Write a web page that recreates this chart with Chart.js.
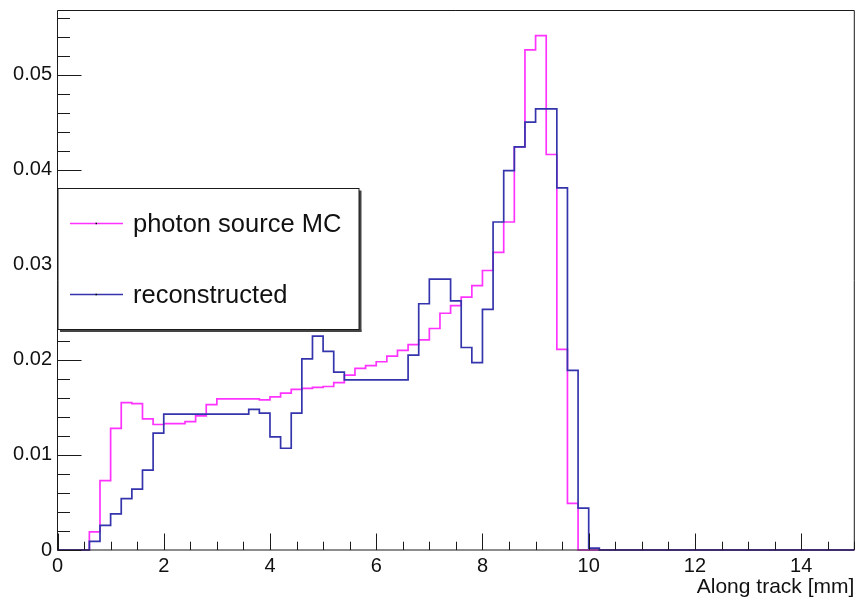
<!DOCTYPE html>
<html><head><meta charset="utf-8">
<script src="https://cdn.jsdelivr.net/npm/chart.js@4"></script>
<style>html,body{margin:0;padding:0;background:#fff;} #wrap{width:859px;height:601px;}</style>
</head><body><div id="wrap"><canvas id="c" width="859" height="601"></canvas></div>
<script>
// bin lower edges (0.2 mm bins) plus final upper edge
const binEdges = [0,0.2,0.4,0.6,0.8,1,1.2,1.4,1.6,1.8,2,2.2,2.4,2.6,2.8,3,3.2,3.4,3.6,3.8,
  4,4.2,4.4,4.6,4.8,5,5.2,5.4,5.6,5.8,6,6.2,6.4,6.6,6.8,7,7.2,7.4,7.6,7.8,
  8,8.2,8.4,8.6,8.8,9,9.2,9.4,9.6,9.8,10,10.2,10.4,10.6,10.8,11,11.2,11.4,11.6,11.8,
  12,12.2,12.4,12.6,12.8,13,13.2,13.4,13.6,13.8,14,14.2,14.4,14.6,14.8,15];

const mcValues = [0,0,0,0.0019,0.0073,0.0128,0.0155,0.0154,0.0138,0.0132,
  0.0133,0.0133,0.0135,0.0141,0.0153,0.0159,0.0159,0.0159,0.0159,0.0158,
  0.0161,0.0165,0.0169,0.0170,0.0171,0.0172,0.0176,0.0184,0.0191,0.0194,
  0.0198,0.0204,0.0210,0.0216,0.0221,0.0233,0.0249,0.0257,0.0266,0.0278,
  0.0294,0.0313,0.0345,0.0424,0.0526,0.0541,0.0416,0.0211,0.0049,0,
  0,0,0,0,0,0,0,0,0,0,0,0,0,0,0,0,0,0,0,0,0,0,0,0,0];

const recoValues = [0,0,0,0.0009,0.0026,0.0038,0.0054,0.0064,0.0084,0.0123,
  0.0143,0.0143,0.0143,0.0143,0.0143,0.0143,0.0143,0.0143,0.0148,0.0144,
  0.0119,0.0107,0.0144,0.0201,0.0225,0.0209,0.0187,0.0179,0.0179,0.0179,
  0.0179,0.0179,0.0179,0.0205,0.0259,0.0285,0.0285,0.0262,0.0213,0.0197,
  0.0253,0.0345,0.0399,0.0424,0.0450,0.0464,0.0464,0.0381,0.0189,0.0044,
  0.0002,0,0,0,0,0,0,0,0,0,0,0,0,0,0,0,0,0,0,0,0,0,0,0,0];

const xTickValues = [0,2,4,6,8,10,12,14];
const yTickValues = [0,0.01,0.02,0.03,0.04,0.05];
const seriesLabels = ['photon source MC','reconstructed'];
const xTitle = 'Along track [mm]';

const FONT = '"Liberation Sans", Arial, Helvetica, sans-serif';
const MC_COLOR = '#ff33ff';
const RECO_COLOR = '#3434ac';

function histPoints(vals){
  const pts = vals.map((v,i)=>({x:binEdges[i], y:v}));
  pts.push({x:binEdges[vals.length], y:vals[vals.length-1]});
  return pts;
}

const rootFrame = {
  id:'rootFrame',
  afterDatasetsDraw(chart){
    const {ctx, chartArea:a, scales:{x,y}} = chart;
    ctx.save();
    ctx.strokeStyle = '#1a1a1a';
    ctx.lineWidth = 1;
    // frame
    ctx.beginPath();
    ctx.rect(a.left, a.top + 0.5, a.right - a.left, a.bottom - a.top - 0.5);
    ctx.stroke();
    // y ticks (inward)
    ctx.beginPath();
    for (let k = 0; k * 0.002 <= y.max + 1e-9; k++) {
      const v = k * 0.002;
      const py = Math.round(y.getPixelForValue(v)) + 0.5;
      const len = (k % 5 === 0) ? 24 : 12.5;
      ctx.moveTo(a.left, py); ctx.lineTo(a.left + len, py);
    }
    // x ticks (inward)
    for (let k = 0; k * 0.5 <= x.max + 1e-9; k++) {
      const v = k * 0.5;
      const px = Math.round(x.getPixelForValue(v)) + 0.5;
      const len = (k % 4 === 0) ? 16.5 : 8.3;
      ctx.moveTo(px, a.bottom); ctx.lineTo(px, a.bottom - len);
    }
    ctx.stroke();

    // legend box
    const L = 58, T = 188.5, R = 359, B = 329.5;
    ctx.fillStyle = '#444';
    ctx.fillRect(R, T + 2, 2.5, B - T);
    ctx.fillRect(L + 2, B, R - L + 0.5, 2.5);
    ctx.fillStyle = '#fff';
    ctx.fillRect(L, T, R - L, B - T);
    ctx.strokeStyle = '#1a1a1a';
    ctx.strokeRect(L, T, R - L, B - T);

    const ds = chart.data.datasets;
    const rows = [223.5, 294.5];
    ctx.font = '25.5px ' + FONT;
    ctx.textBaseline = 'middle';
    ctx.textAlign = 'left';
    ds.forEach((d, i) => {
      ctx.strokeStyle = d.borderColor;
      ctx.lineWidth = 1.7;
      ctx.beginPath();
      ctx.moveTo(70, rows[i]); ctx.lineTo(123, rows[i]);
      ctx.stroke();
      ctx.fillStyle = '#000';
      ctx.fillRect(95.5, rows[i] - 0.75, 1.5, 1.5);
      ctx.fillStyle = '#111';
      ctx.fillText(d.label, 133, rows[i] + 1);
    });
    ctx.restore();
  }
};

new Chart(document.getElementById('c'), {
  type: 'line',
  data: {
    datasets: [
      {label: seriesLabels[0], data: histPoints(mcValues), borderColor: MC_COLOR, borderWidth: 1.7,
       stepped: 'before', pointRadius: 0, fill: false, order: 1, clip: 4},
      {label: seriesLabels[1], data: histPoints(recoValues), borderColor: RECO_COLOR, borderWidth: 1.7,
       stepped: 'before', pointRadius: 0, fill: false, order: 0, clip: 4}
    ]
  },
  options: {
    responsive: false, animation: false, devicePixelRatio: 1,
    layout: {padding: {left: 0, top: 10, right: 4.7, bottom: 0}},
    plugins: {legend: {display: false}, tooltip: {enabled: false}},
    scales: {
      x: {
        type: 'linear', min: 0, max: 15,
        afterFit(s){ s.height = 51; s.paddingLeft = 0; s.paddingRight = 0; },
        afterBuildTicks(s){ s.ticks = xTickValues.map(v => ({value: v})); },
        grid: {display: false, drawTicks: false}, border: {display: false},
        ticks: {padding: 4, color: '#111', autoSkip: false, maxRotation: 0,
                font: {family: FONT, size: 20}, callback: v => String(v)},
        title: {display: true, text: xTitle, align: 'end', color: '#111',
                font: {family: FONT, size: 21}, padding: {top: 0, bottom: 1}}
      },
      y: {
        type: 'linear', min: 0, max: 0.0568,
        afterFit(s){ s.width = 57.5; s.paddingTop = 0; s.paddingBottom = 0; },
        afterBuildTicks(s){ s.ticks = yTickValues.map(v => ({value: v})); },
        grid: {display: false, drawTicks: false}, border: {display: false},
        ticks: {padding: 5.5, color: '#111', autoSkip: false,
                font: {family: FONT, size: 20}, callback: v => v === 0 ? '0' : v.toFixed(2)}
      }
    }
  },
  plugins: [rootFrame]
});
</script>
</body></html>
